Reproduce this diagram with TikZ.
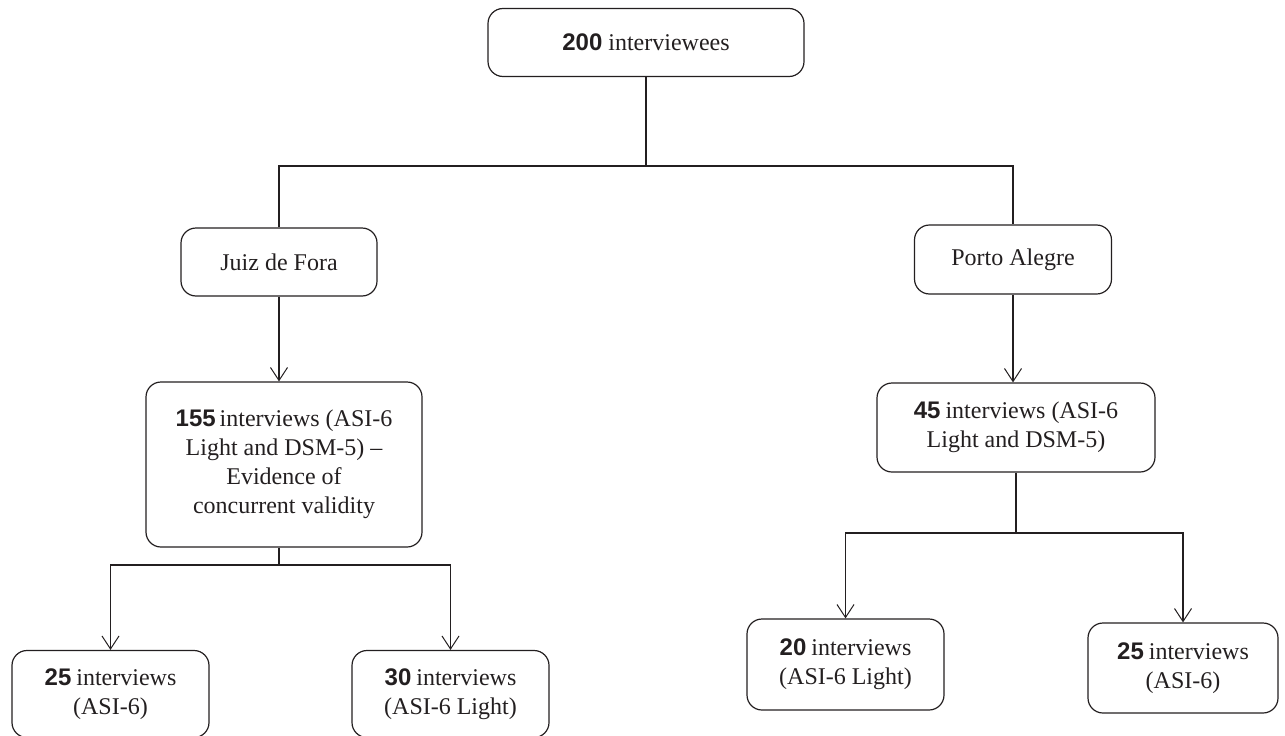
\documentclass[tikz,border=0pt]{standalone}
\usepackage{fontspec}
\setmainfont{Liberation Serif}
\newfontfamily\numfont{Liberation Sans}
\usetikzlibrary{arrows.meta}
\definecolor{ln}{RGB}{35,31,32}
\newcommand{\nb}[1]{{\numfont\bfseries #1}}
\begin{document}
\begin{tikzpicture}[x=1pt,y=-1pt,
  box/.style={draw=ln, line width=1.2pt, rounded corners=15pt, align=center,
    text=ln, font=\fontsize{24}{29}\selectfont, inner sep=0pt},
  conn/.style={draw=ln, line width=1.2pt},
  arr/.style={conn, -{Straight Barb[length=13pt,width=17pt,line width=1pt]}}]
\useasboundingbox (0,0) rectangle (1285,736);
\node[box, minimum width=316pt, minimum height=68pt] (top) at (646,42.5) {\nb{200} interviewees};
\node[box, minimum width=196pt, minimum height=68pt] (juiz) at (279,262) {Juiz de Fora};
\node[box, minimum width=197pt, minimum height=69pt] (porto) at (1013,259.5) {Porto Alegre};
\node[box, minimum width=276pt, minimum height=165pt] (b155) at (284,464.5)
  {\nb{155}\kern4pt interviews (ASI-6\\Light and DSM-5) --\\Evidence of\\concurrent validity};
\node[box, minimum width=278pt, minimum height=89pt] (b45) at (1016,427.5)
  {\nb{45}\kern5pt interviews (ASI-6\\Light and DSM-5)};
\node[box, minimum width=197pt, minimum height=87pt] (b25a) at (110.5,694)
  {\nb{25}\kern5pt interviews\\(ASI-6)};
\node[box, minimum width=197pt, minimum height=87pt] (b30) at (450.5,694)
  {\nb{30}\kern5pt interviews\\(ASI-6 Light)};
\node[box, minimum width=197pt, minimum height=91pt] (b20) at (845.5,664.5)
  {\nb{20}\kern5pt interviews\\(ASI-6 Light)};
\node[box, minimum width=190pt, minimum height=90pt] (b25b) at (1183,668)
  {\nb{25}\kern5pt interviews\\(ASI-6)};
\coordinate (y166) at (0,166);
\coordinate (y565) at (0,565);
\coordinate (y533) at (0,533);
\coordinate (j1) at (top.south |- y166);
\coordinate (j2) at (juiz.south |- y565);
\coordinate (j3) at (b45.south |- y533);
\draw[conn] (top.south) -- (j1);
\draw[conn] (juiz.north) -- (juiz.north |- y166) -- (porto.north |- y166) -- (porto.north);
\draw[arr] (juiz.south) -- (juiz.south |- b155.north);
\draw[arr] (porto.south) -- (porto.south |- b45.north);
\draw[conn] (juiz.south |- b155.south) -- (j2);
\draw[arr] (j2) -| (b25a.north);
\draw[arr] (j2) -| (b30.north);
\draw[conn] (b45.south) -- (j3);
\draw[arr] (j3) -| (b20.north);
\draw[arr] (j3) -| (b25b.north);
\end{tikzpicture}
\end{document}
